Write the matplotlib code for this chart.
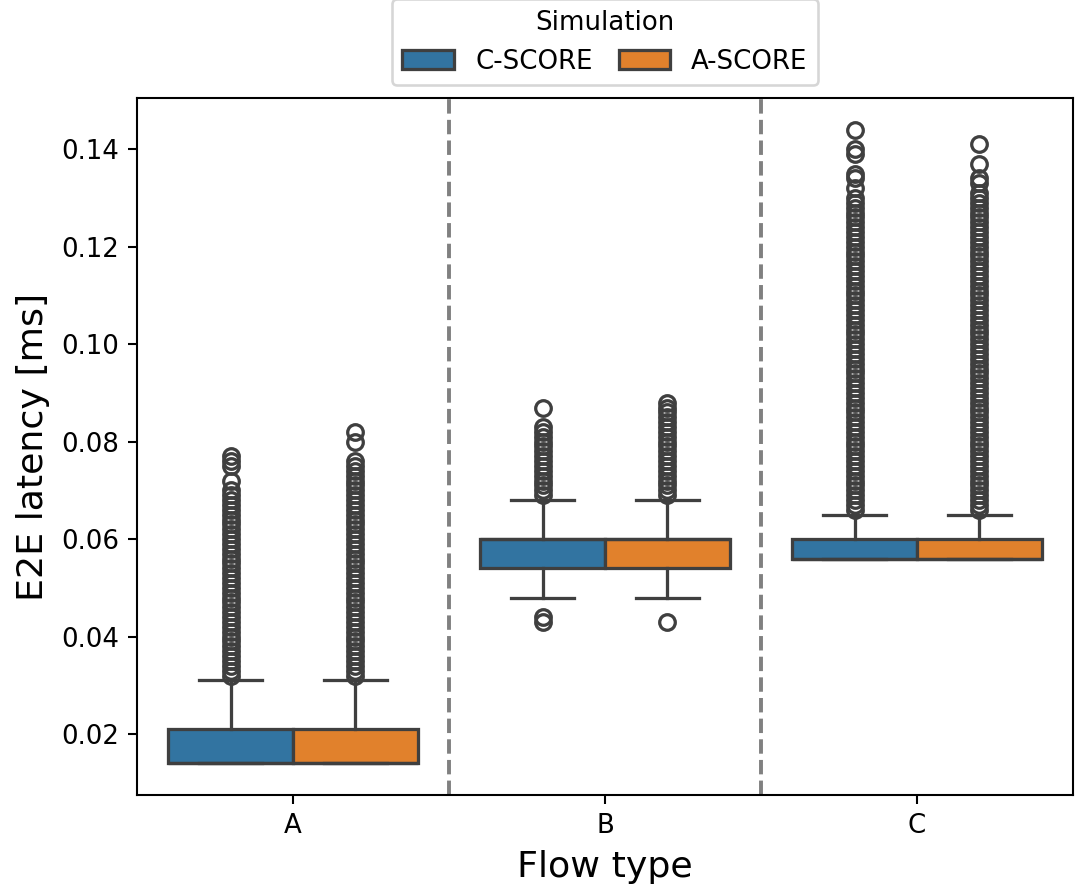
import numpy as np
import matplotlib
matplotlib.use("Agg")
import matplotlib.pyplot as plt
from matplotlib.patches import Patch

# values, latency in ms
flows = ["A", "B", "C"]
sims = ["C-SCORE", "A-SCORE"]
colors = ["#3274a1", "#e1812c"]
line_gray = "#3f3f3f"

# box stats per flow: [C-SCORE, A-SCORE]
q1 = {"A": [0.014, 0.014], "B": [0.054, 0.054], "C": [0.056, 0.056]}
med = {"A": [0.014, 0.014], "B": [0.060, 0.060], "C": [0.056, 0.056]}
q3 = {"A": [0.021, 0.021], "B": [0.060, 0.060], "C": [0.060, 0.060]}
whislo = {"A": [0.014, 0.014], "B": [0.048, 0.048], "C": [0.056, 0.056]}
whishi = {"A": [0.031, 0.031], "B": [0.068, 0.068], "C": [0.065, 0.065]}

# outliers, written in thousandths of a ms
fliers_A_c = [32, 33, 34, 35, 36, 37, 38, 39, 40, 41, 42, 43, 44, 45, 46, 47, 48, 49, 50,
              51, 52, 53, 54, 55, 56, 57, 58, 59, 60, 61, 62, 63, 64, 65, 66, 67, 68, 69,
              70, 72, 75, 76, 77]
fliers_A_a = [32, 33, 34, 35, 36, 37, 38, 39, 40, 41, 42, 43, 44, 45, 46, 47, 48, 49, 50,
              51, 52, 53, 54, 55, 56, 57, 58, 59, 60, 61, 62, 63, 64, 65, 66, 67, 68, 69,
              70, 71, 72, 73, 74, 75, 76, 80, 82]
fliers_B_c = [43, 44, 69, 70, 71, 72, 73, 74, 75, 76, 77, 78, 79, 80, 81, 82, 83, 87]
fliers_B_a = [43, 69, 70, 71, 72, 73, 74, 75, 76, 77, 78, 79, 80, 81, 82, 83, 84, 85, 86,
              87, 88]
fliers_C_c = [66, 67, 68, 69, 70, 71, 72, 73, 74, 75, 76, 77, 78, 79, 80, 81, 82, 83, 84,
              85, 86, 87, 88, 89, 90, 91, 92, 93, 94, 95, 96, 97, 98, 99, 100, 101, 102,
              103, 104, 105, 106, 107, 108, 109, 110, 111, 112, 113, 114, 115, 116, 117,
              118, 119, 120, 121, 122, 123, 124, 125, 126, 127, 128, 129, 130, 132, 134,
              135, 139, 140, 144]
fliers_C_a = [66, 67, 68, 69, 70, 71, 72, 73, 74, 75, 76, 77, 78, 79, 80, 81, 82, 83, 84,
              85, 86, 87, 88, 89, 90, 91, 92, 93, 94, 95, 96, 97, 98, 99, 100, 101, 102,
              103, 104, 105, 106, 107, 108, 109, 110, 111, 112, 113, 114, 115, 116, 117,
              118, 119, 120, 121, 122, 123, 124, 125, 126, 127, 128, 129, 130, 131, 133,
              134, 137, 141]
fliers = {"A": [fliers_A_c, fliers_A_a],
          "B": [fliers_B_c, fliers_B_a],
          "C": [fliers_C_c, fliers_C_a]}

dpi = 187
fig = plt.figure(figsize=(1076 / dpi, 893 / dpi), dpi=dpi)
ax = fig.add_axes([0.1273, 0.1097, 0.8699, 0.7806])

lw = 1.25
for i, f in enumerate(flows):
    for j, s in enumerate(sims):
        st = [{
            "med": med[f][j], "q1": q1[f][j], "q3": q3[f][j],
            "whislo": whislo[f][j], "whishi": whishi[f][j],
            "fliers": np.array(fliers[f][j]) / 1000.0,
        }]
        pos = i - 0.2 + 0.4 * j
        ax.bxp(st, positions=[pos], widths=0.4, capwidths=0.2, patch_artist=True,
               boxprops=dict(facecolor=colors[j], edgecolor=line_gray, linewidth=lw),
               whiskerprops=dict(color=line_gray, linewidth=lw),
               capprops=dict(color=line_gray, linewidth=lw),
               medianprops=dict(color=line_gray, linewidth=lw),
               flierprops=dict(marker="o", markerfacecolor="none", markeredgecolor=line_gray,
                               markersize=6, markeredgewidth=lw),
               manage_ticks=False)

# separators between flow types
for x in [0.5, 1.5]:
    ax.axvline(x, color="gray", linestyle="--", linewidth=1.5)

ax.set_xlim(-0.5, 2.5)
ax.set_xticks(range(len(flows)))
ax.set_xticklabels(flows)
ax.set_yticks([0.02, 0.04, 0.06, 0.08, 0.10, 0.12, 0.14])
ax.set_xlabel("Flow type", fontsize=14)
ax.set_ylabel("E2E latency [ms]", fontsize=14)

handles = [Patch(facecolor=colors[k], edgecolor=line_gray, linewidth=lw) for k in range(2)]
ax.legend(handles, sims, title="Simulation", loc="lower center",
          bbox_to_anchor=(0.5, 1.0), ncol=2, columnspacing=1.0)

fig.savefig("out.png", dpi=dpi)
